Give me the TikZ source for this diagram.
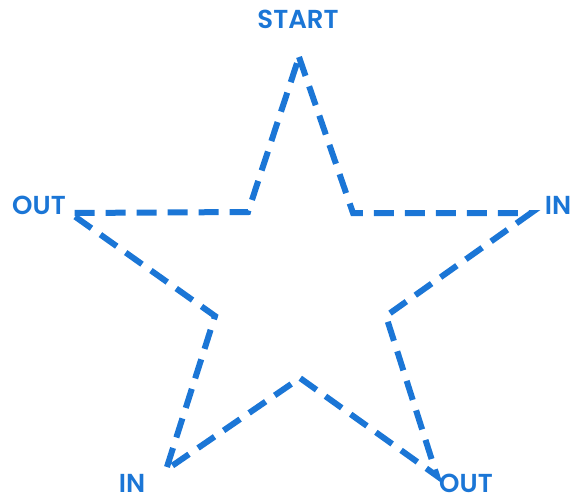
\documentclass[tikz,border=0pt]{standalone}
\usepackage{fontspec}
\setmainfont{Poppins}[UprightFont=* SemiBold]
\definecolor{starblue}{RGB}{27,118,214}
\begin{document}
\begin{tikzpicture}[x=1pt,y=-1pt,
  lab/.style={text=starblue,font=\fontsize{26}{29}\selectfont,inner sep=0pt,anchor=base},
  edge/.style={draw=starblue,line width=6pt,dash pattern=on 20pt off 11pt}]
\useasboundingbox (0,0) rectangle (573,496);
\coordinate (t) at (299,57);
\coordinate (iur) at (353,213);
\coordinate (r) at (531,213);
\coordinate (ir) at (386,316);
\coordinate (br) at (437,476);
\coordinate (ib) at (300,378);
\coordinate (bl) at (166,470);
\coordinate (il) at (215,316);
\coordinate (l) at (70,213);
\coordinate (iul) at (248,212);
\draw[edge] (t) -- (iur) -- (r) -- (ir) -- (br) -- (ib) -- (bl) -- (il) -- (l) -- (iul) -- cycle;
\node[lab] (start) at (298,28) {START};
\node[lab] (outl) at (39,214) {OUT};
\node[lab] (inr) at (558,214) {IN};
\node[lab] (inb) at (132,492) {IN};
\node[lab] (outb) at (466,492) {OUT};
\end{tikzpicture}
\end{document}
